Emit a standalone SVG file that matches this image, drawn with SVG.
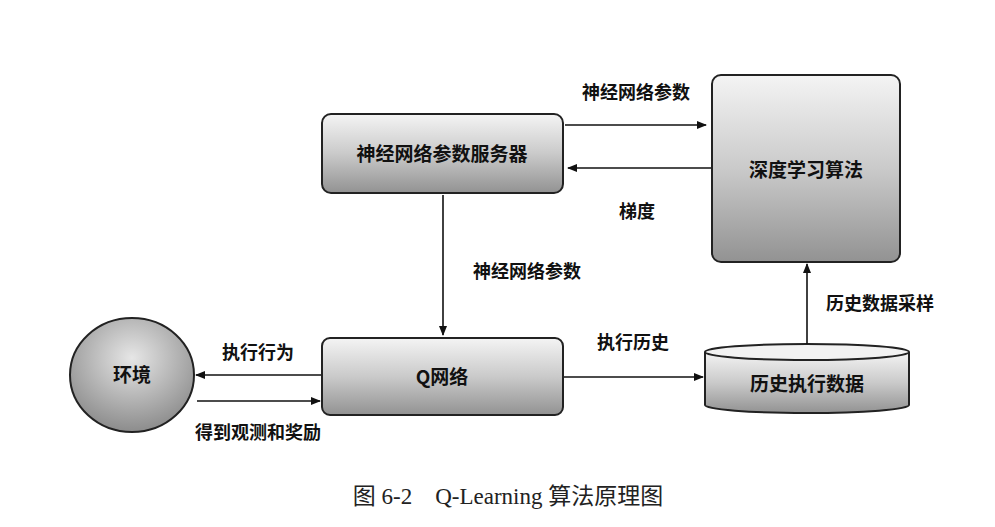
<svg xmlns="http://www.w3.org/2000/svg" width="995" height="527" viewBox="0 0 995 527">
<style>
.lbl{font-family:"Noto Sans CJK SC","Liberation Sans",sans-serif;font-size:18px;font-weight:bold;fill:#111;}
.node{font-family:"Noto Sans CJK SC","Liberation Sans",sans-serif;font-size:19px;font-weight:bold;fill:#111;}
.cap{font-family:"Liberation Serif","Noto Sans CJK SC",serif;font-size:23px;fill:#222;}
.shape{stroke:#222;stroke-width:2;}
.conn{stroke:#111;stroke-width:1.6;fill:none;marker-end:url(#ah);}
</style>
<defs>
<linearGradient id="g" x1="0" y1="0" x2="0" y2="1">
<stop offset="0" stop-color="#f4f4f4"/>
<stop offset="0.5" stop-color="#cacaca"/>
<stop offset="1" stop-color="#929292"/>
</linearGradient>
<radialGradient id="rg" cx="0.5" cy="0.35" r="0.65">
<stop offset="0" stop-color="#e6e6e6"/>
<stop offset="1" stop-color="#8c8c8c"/>
</radialGradient>
<marker id="ah" markerWidth="10" markerHeight="8" refX="9" refY="4" orient="auto" markerUnits="userSpaceOnUse">
<path d="M0,0 L10,4 L0,8 Z" fill="#111"/>
</marker>
</defs>
<rect width="995" height="527" fill="#fff"/>
<g id="server">
<rect class="shape" x="322" y="114" width="241" height="79" rx="9" fill="url(#g)"/>
<text class="node" x="442" y="161" text-anchor="middle">神经网络参数服务器</text>
</g>
<g id="deeplearning">
<rect class="shape" x="712" y="75" width="188" height="187" rx="9" fill="url(#g)"/>
<text class="node" x="806" y="177" text-anchor="middle">深度学习算法</text>
</g>
<g id="qnet">
<rect class="shape" x="322" y="338" width="241" height="77" rx="8" fill="url(#g)"/>
<text class="node" x="442" y="384" text-anchor="middle">Q网络</text>
</g>
<g id="env">
<ellipse class="shape" cx="132" cy="375" rx="62" ry="57" fill="url(#rg)"/>
<text class="node" x="132" y="382" text-anchor="middle">环境</text>
</g>
<g id="history">
<path class="shape" d="M705,352 L705,405 A102,8 0 0 0 909,405 L909,352" fill="url(#g)"/>
<ellipse class="shape" cx="807" cy="352" rx="102" ry="8" fill="#f2f2f2"/>
<text class="node" x="807" y="391" text-anchor="middle">历史执行数据</text>
</g>
<g id="connectors">
<line class="conn" x1="565" y1="125" x2="706" y2="125"/>
<line class="conn" x1="711" y1="168" x2="568" y2="168"/>
<line class="conn" x1="443" y1="195" x2="443" y2="335"/>
<line class="conn" x1="321" y1="375" x2="196" y2="375"/>
<line class="conn" x1="197" y1="401" x2="320" y2="401"/>
<line class="conn" x1="564" y1="377" x2="703" y2="377"/>
<line class="conn" x1="807" y1="344" x2="807" y2="264"/>
</g>
<g id="labels">
<text class="lbl" x="636" y="99" text-anchor="middle">神经网络参数</text>
<text class="lbl" x="637" y="218" text-anchor="middle">梯度</text>
<text class="lbl" x="527" y="278" text-anchor="middle">神经网络参数</text>
<text class="lbl" x="258" y="359" text-anchor="middle">执行行为</text>
<text class="lbl" x="258" y="439" text-anchor="middle">得到观测和奖励</text>
<text class="lbl" x="633" y="349" text-anchor="middle">执行历史</text>
<text class="lbl" x="880" y="310" text-anchor="middle">历史数据采样</text>
</g>
<text class="cap" x="508" y="504" text-anchor="middle" xml:space="preserve">图 6-2    Q-Learning 算法原理图</text>
</svg>
